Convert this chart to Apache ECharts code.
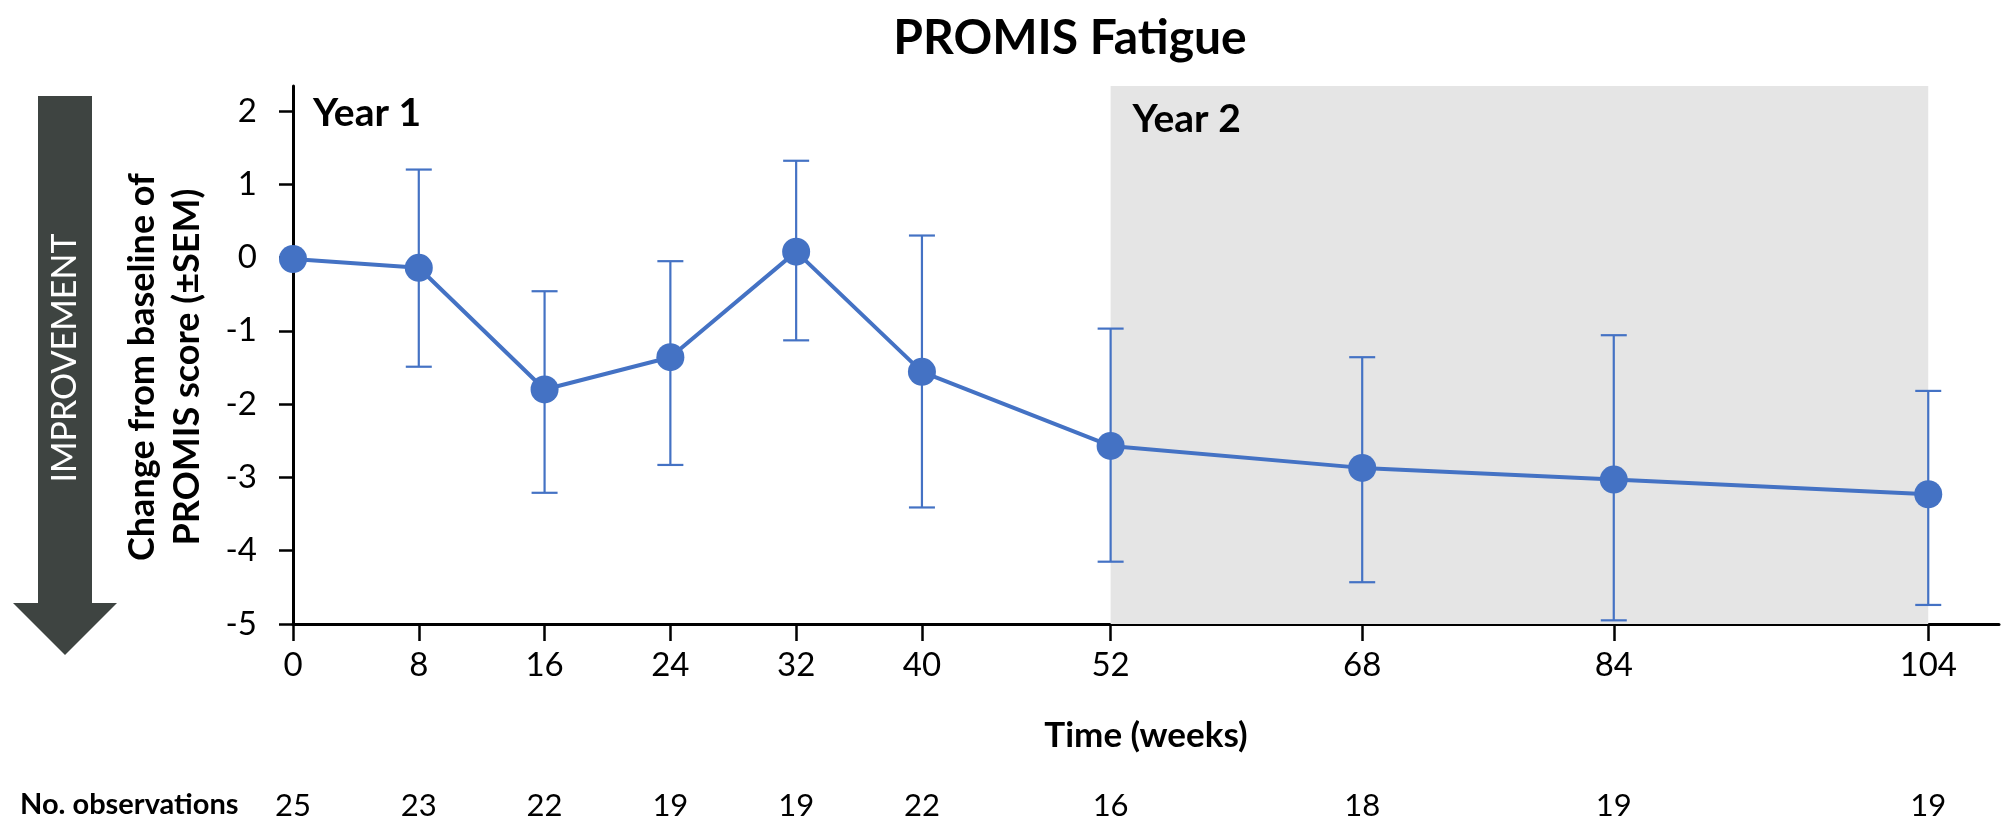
<!DOCTYPE html>
<html>
<head>
<meta charset="utf-8">
<script src="https://cdn.jsdelivr.net/npm/echarts@6/dist/echarts.min.js"></script>
<style>
  html, body { margin: 0; padding: 0; background: #ffffff; }
  #chart { width: 2005px; height: 821px; }
</style>
</head>
<body>
<div id="chart"></div>
<script>
// ---- data ----
var weeks = [0, 8, 16, 24, 32, 40, 52, 68, 84, 104];
var meanChange = [-0.02, -0.14, -1.80, -1.36, 0.08, -1.56, -2.57, -2.87, -3.03, -3.23];
var upperSEM = [null, 1.20, -0.46, -0.05, 1.32, 0.30, -0.97, -1.36, -1.06, -1.82];
var lowerSEM = [null, -1.49, -3.21, -2.83, -1.13, -3.41, -4.15, -4.43, -4.95, -4.74];
var observations = [25, 23, 22, 19, 19, 22, 16, 18, 19, 19];
var yTicks = [-5, -4, -3, -2, -1, 0, 1, 2];
var yearBands = [
  { name: 'Year 1', from: 0, to: 52 },
  { name: 'Year 2', from: 52, to: 104 }
];

var FONT = 'Lato';
var BLUE = '#4472C4';

var lineData = weeks.map(function (w, i) { return [w, meanChange[i]]; });
var errData = [];
weeks.forEach(function (w, i) {
  if (upperSEM[i] !== null) errData.push([w, lowerSEM[i], upperSEM[i]]);
});

var chart = echarts.init(document.getElementById('chart'), null, { renderer: 'canvas' });

var option = {
  backgroundColor: '#ffffff',
  animation: false,
  title: {
    text: 'PROMIS Fatigue',
    left: 1065,
    top: 10,
    textAlign: 'center',
    textStyle: { fontFamily: FONT, fontWeight: 'bold', fontSize: 48, color: '#000' }
  },
  grid: { left: 293, right: 6, top: 86, bottom: 197, containLabel: false },
  xAxis: [{
    type: 'value',
    min: 0,
    max: 108.5,
    name: 'Time (weeks)',
    nameLocation: 'middle',
    nameGap: 94,
    nameTextStyle: { fontFamily: FONT, fontWeight: 'bold', fontSize: 35, color: '#000' },
    axisLine: { onZero: false, lineStyle: { color: '#000', width: 3 } },
    axisTick: { show: true, customValues: weeks, length: 17, lineStyle: { color: '#000', width: 2.5 } },
    axisLabel: { customValues: weeks, margin: 25, fontFamily: FONT, fontSize: 33, color: '#000' },
    splitLine: { show: false }
  }, {
    type: 'value',
    min: 0,
    max: 108.5,
    position: 'bottom',
    offset: 0,
    axisLine: { show: false },
    axisTick: { show: false },
    axisLabel: {
      customValues: weeks,
      margin: 166,
      fontFamily: FONT, fontSize: 31, color: '#000',
      formatter: function (v) { var i = weeks.indexOf(v); return i >= 0 ? String(observations[i]) : ''; }
    },
    splitLine: { show: false }
  }],
  yAxis: {
    type: 'value',
    min: -5,
    max: 2.34,
    name: 'Change from baseline of\nPROMIS score (\u00B1SEM)',
    nameLocation: 'middle',
    nameRotate: 90,
    nameGap: 83,
    nameTextStyle: { fontFamily: FONT, fontWeight: 'bold', fontSize: 36, color: '#000', lineHeight: 45, padding: [0, 24, 0, 0] },
    axisLine: { onZero: false, lineStyle: { color: '#000', width: 3 } },
    axisTick: { show: true, customValues: yTicks, length: 14, lineStyle: { color: '#000', width: 2.5 } },
    axisLabel: { customValues: yTicks, margin: 36, fontFamily: FONT, fontSize: 33, color: '#000' },
    splitLine: { show: false }
  },
  graphic: [
    {
      type: 'polygon',
      shape: { points: [[38, 96], [92, 96], [92, 603], [117, 603], [65, 655], [13, 603], [38, 603]] },
      style: { fill: '#3E4441' },
      z: 1
    },
    {
      type: 'text',
      x: 65, y: 358,
      rotation: Math.PI / 2,
      style: { text: 'IMPROVEMENT', fill: '#ffffff', font: '34px Lato', textAlign: 'center', textVerticalAlign: 'middle' },
      z: 2
    },
    {
      type: 'text',
      left: 20, top: 790,
      style: { text: 'No. observations', fill: '#000', font: 'bold 29px Lato' }
    }
  ],
  series: [
    {
      type: 'custom',
      name: 'SEM',
      z: 2,
      renderItem: function (params, api) {
        var x = api.value(0);
        var lo = api.coord([x, api.value(1)]);
        var hi = api.coord([x, api.value(2)]);
        var cw = 13;
        var st = { stroke: BLUE, lineWidth: 2.2 };
        return {
          type: 'group',
          children: [
            { type: 'line', shape: { x1: hi[0], y1: hi[1], x2: lo[0], y2: lo[1] }, style: st },
            { type: 'line', shape: { x1: hi[0] - cw, y1: hi[1], x2: hi[0] + cw, y2: hi[1] }, style: st },
            { type: 'line', shape: { x1: lo[0] - cw, y1: lo[1], x2: lo[0] + cw, y2: lo[1] }, style: st }
          ]
        };
      },
      encode: { x: 0, y: [1, 2] },
      data: errData
    },
    {
      type: 'line',
      name: 'Mean',
      z: 3,
      data: lineData,
      symbol: 'circle',
      symbolSize: 28,
      lineStyle: { color: BLUE, width: 4 },
      itemStyle: { color: BLUE },
      markArea: {
        silent: true,
        data: [
          [{ xAxis: yearBands[0].from, itemStyle: { color: 'rgba(0,0,0,0)' },
             label: { show: true, position: 'insideTopLeft', distance: 0, padding: [8, 0, 0, 20], formatter: yearBands[0].name, fontFamily: FONT, fontWeight: 'bold', fontSize: 39, color: '#000' } },
           { xAxis: yearBands[0].to }],
          [{ xAxis: yearBands[1].from, itemStyle: { color: '#E5E5E5' },
             label: { show: true, position: 'insideTopLeft', distance: 0, padding: [14, 0, 0, 22], formatter: yearBands[1].name, fontFamily: FONT, fontWeight: 'bold', fontSize: 39, color: '#000' } },
           { xAxis: yearBands[1].to }]
        ]
      }
    }
  ]
};

chart.setOption(option);
</script>
</body>
</html>
